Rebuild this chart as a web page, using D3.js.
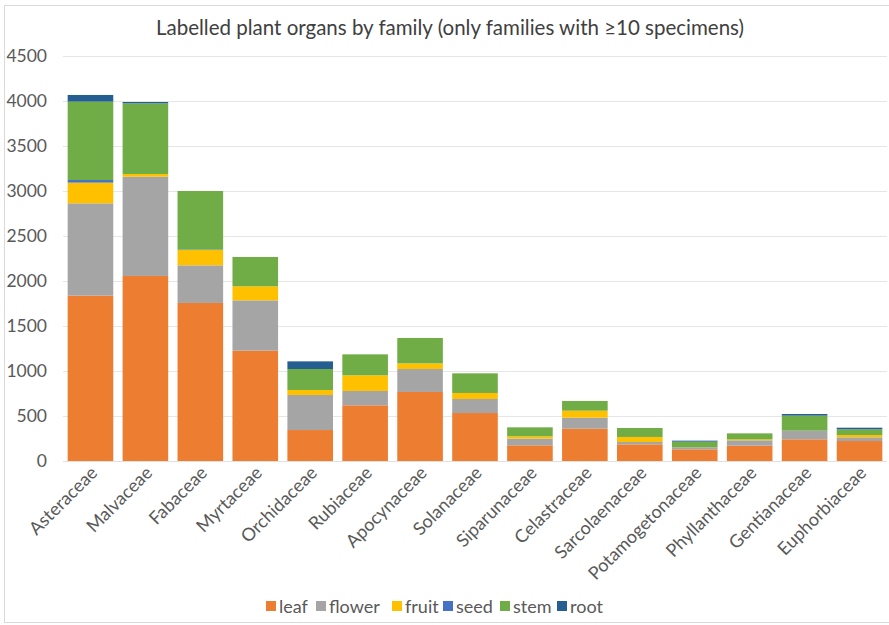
<!DOCTYPE html>
<html>
<head>
<meta charset="utf-8">
<script src="https://cdn.jsdelivr.net/npm/d3@7"></script>
<style>
  html, body { margin: 0; padding: 0; background: #fff; }
  svg { display: block; font-family: "Lato", "Open Sans", sans-serif; }
</style>
</head>
<body>
<svg id="chart" width="889" height="625"></svg>
<script>
// Plant families (only those with at least 10 specimens)
const families = ["Asteraceae", "Malvaceae", "Fabaceae", "Myrtaceae", "Orchidaceae",
  "Rubiaceae", "Apocynaceae", "Solanaceae", "Siparunaceae", "Celastraceae",
  "Sarcolaenaceae", "Potamogetonaceae", "Phyllanthaceae", "Gentianaceae", "Euphorbiaceae"];

// Labelled organ counts per family
const leaf   = [1837, 2056, 1756, 1226, 344, 619, 767, 533, 174, 359, 185, 130, 170, 241, 222];
const flower = [1026, 1103, 418, 559, 389, 159, 255, 156, 74, 122, 26, 22, 60, 96, 41];
const fruit  = [230, 30, 170, 156, 56, 174, 63, 67, 26, 78, 56, 0, 11, 0, 26];
const seed   = [29, 0, 5, 0, 0, 0, 0, 0, 0, 0, 0, 0, 0, 0, 0];
const stem   = [871, 785, 651, 326, 233, 233, 282, 218, 100, 108, 100, 63, 66, 167, 63];
const root   = [74, 15, 0, 0, 85, 0, 0, 0, 0, 0, 0, 11, 0, 18, 18];

const organs = ["leaf", "flower", "fruit", "seed", "stem", "root"];
const seriesValues = { leaf, flower, fruit, seed, stem, root };
const colors = ["#ED7D31", "#A5A5A5", "#FFC000", "#4472C4", "#70AD47", "#255E91"];
const yTicks = [0, 500, 1000, 1500, 2000, 2500, 3000, 3500, 4000, 4500];

const svg = d3.select("#chart");
const W = 889, H = 625;

// outer frame
svg.append("rect")
  .attr("x", 4.5).attr("y", 5.5)
  .attr("width", W - 4).attr("height", H - 8)
  .attr("fill", "#fff").attr("stroke", "#d9d9d9");

const plot = { left: 63, right: 887, top: 56, bottom: 461 };

const x = d3.scaleBand()
  .domain(families)
  .range([plot.left, plot.right])
  .paddingInner(0.17)
  .paddingOuter(0.085);

const y = d3.scaleLinear()
  .domain([0, 4500])
  .range([plot.bottom, plot.top]);

const color = d3.scaleOrdinal().domain(organs).range(colors);

// gridlines
svg.append("g")
  .selectAll("line")
  .data(yTicks)
  .join("line")
  .attr("x1", plot.left).attr("x2", plot.right)
  .attr("y1", d => Math.round(y(d)) + 0.5)
  .attr("y2", d => Math.round(y(d)) + 0.5)
  .attr("stroke", "#e6e6e6")
  .attr("stroke-width", 1);

// y-axis labels
const yAxis = svg.append("g")
  .attr("transform", `translate(${plot.left - 16},0)`)
  .call(d3.axisLeft(y).tickValues(yTicks).tickFormat(d3.format("d")).tickSize(0).tickPadding(0));
yAxis.select(".domain").remove();
yAxis.selectAll("text")
  .attr("font-family", "Lato, 'Open Sans', sans-serif")
  .attr("font-size", 17.5)
  .attr("fill", "#595959");

// stacked bars
const table = families.map((f, i) => {
  const row = { family: f };
  organs.forEach(o => { row[o] = seriesValues[o][i]; });
  return row;
});
const stacked = d3.stack().keys(organs)(table);

svg.append("g")
  .selectAll("g")
  .data(stacked)
  .join("g")
  .attr("fill", d => color(d.key))
  .selectAll("rect")
  .data(d => d)
  .join("rect")
  .attr("x", d => x(d.data.family))
  .attr("width", x.bandwidth())
  .attr("y", d => y(d[1]))
  .attr("height", d => Math.max(0, y(d[0]) - y(d[1])));

// baseline
svg.append("line")
  .attr("x1", plot.left).attr("x2", plot.right)
  .attr("y1", plot.bottom + 0.5).attr("y2", plot.bottom + 0.5)
  .attr("stroke", "#e0e0e0");

// x-axis labels, rotated
const xAxis = svg.append("g")
  .attr("transform", `translate(0,${plot.bottom})`)
  .call(d3.axisBottom(x).tickSize(0).tickPadding(0));
xAxis.select(".domain").remove();
xAxis.selectAll("text")
  .attr("font-family", "Lato, 'Open Sans', sans-serif")
  .attr("font-size", 18)
  .attr("fill", "#595959")
  .attr("text-anchor", "end")
  .attr("dy", "0")
  .attr("transform", "translate(8,13) rotate(-45)");

// title
svg.append("text")
  .attr("x", 450).attr("y", 35)
  .attr("text-anchor", "middle")
  .attr("font-size", 20.5)
  .attr("fill", "#404040")
  .text("Labelled plant organs by family (only families with \u226510 specimens)");

// legend
const legendItems = [
  { key: "leaf", x: 266 },
  { key: "flower", x: 316 },
  { key: "fruit", x: 392 },
  { key: "seed", x: 443 },
  { key: "stem", x: 500 },
  { key: "root", x: 557 }
];
const legend = svg.append("g");
const li = legend.selectAll("g")
  .data(legendItems)
  .join("g")
  .attr("transform", d => `translate(${d.x},0)`);
li.append("rect")
  .attr("x", 0).attr("y", 601)
  .attr("width", 10).attr("height", 10)
  .attr("fill", d => color(d.key));
li.append("text")
  .attr("x", 13).attr("y", 613)
  .attr("font-size", 18)
  .attr("fill", "#595959")
  .text(d => d.key);
</script>
</body>
</html>
